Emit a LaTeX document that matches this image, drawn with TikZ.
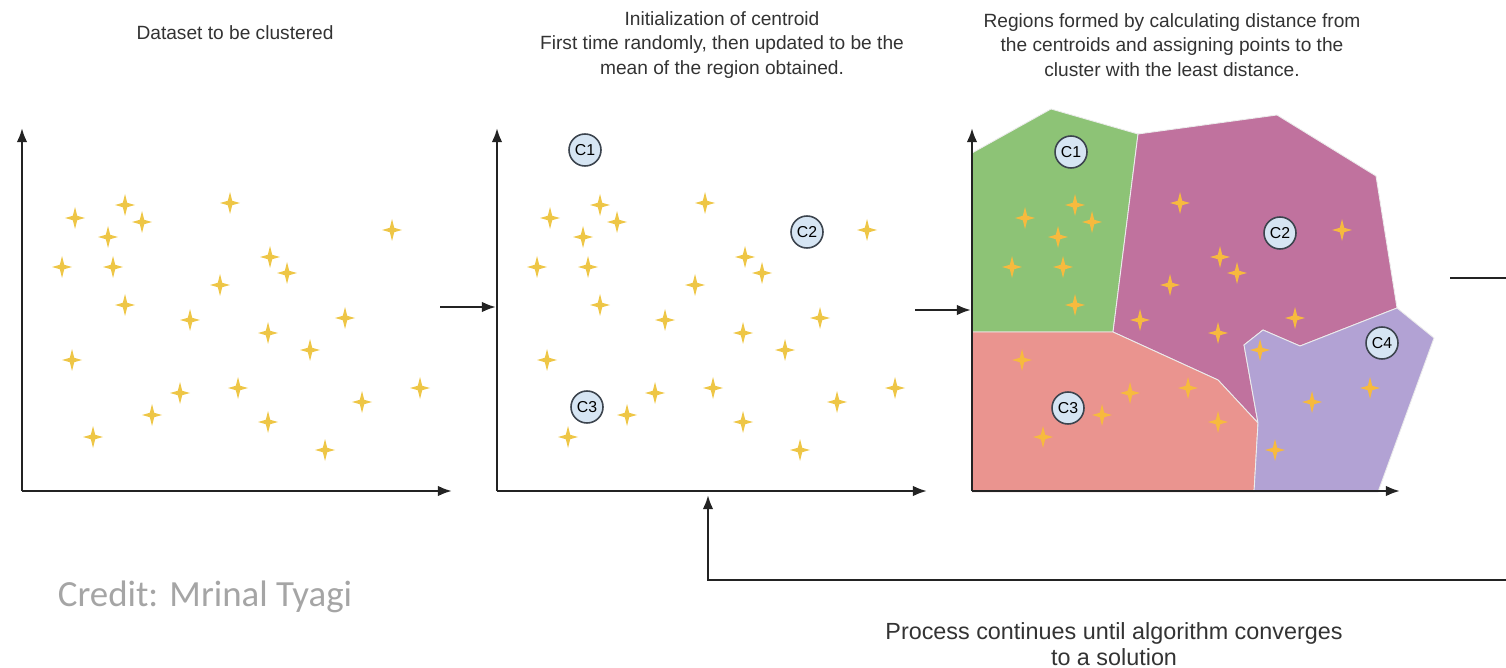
\documentclass[tikz,border=0pt]{standalone}
\usepackage{fontspec}
\setmainfont{Liberation Sans}
\newfontfamily\creditfont{Carlito}
\usetikzlibrary{arrows.meta}

\definecolor{starcol}{RGB}{238,198,70}
\definecolor{starorange}{RGB}{247,186,62}
\definecolor{axiscol}{RGB}{35,35,35}
\definecolor{regA}{RGB}{141,195,118}
\definecolor{regB}{RGB}{192,114,158}
\definecolor{regC}{RGB}{234,148,143}
\definecolor{regD}{RGB}{178,162,212}
\definecolor{centfill}{RGB}{214,229,243}
\definecolor{centline}{RGB}{60,68,78}
\definecolor{creditcol}{RGB}{165,165,165}

\tikzset{
	axis/.style={draw=axiscol, line width=1.4pt, -{Latex[length=8pt,width=6pt]}},
	link/.style={draw=axiscol, line width=1.4pt},
	centroid/.style={circle, draw=centline, line width=0.9pt, fill=centfill, minimum size=0.64cm, inner sep=0pt, font=\fontsize{9}{10}\selectfont},
	heading/.style={align=center, text=black!80, font=\fontsize{10.9}{14}\selectfont},
	region/.style={draw=white!85!gray, line width=0.5pt, line join=round},
}

\newcommand{\spark}[3]{\fill[#3, shift={(#1,#2)}] (0,-11) -- (2.2,-2.2) -- (10,0) -- (2.2,2.2) -- (0,11) -- (-2.2,2.2) -- (-10,0) -- (-2.2,-2.2) -- cycle;}

\begin{document}
\begin{tikzpicture}[x=0.02cm, y=-0.02cm]

	\useasboundingbox (0,0) rectangle (1506,668);

		\fill[region, fill=regA] (972,153) -- (1051,109) -- (1138,134) -- (1113,332) -- (972,332) -- cycle;
		\fill[region, fill=regB] (1138,134) -- (1277,115) -- (1376,176) -- (1397,308) -- (1300,346) -- (1263,330) -- (1244,345) -- (1258,423) -- (1218,380) -- (1113,332) -- cycle;
		\fill[region, fill=regC] (972,332) -- (1113,332) -- (1218,380) -- (1258,423) -- (1254,492) -- (972,492) -- cycle;
		\fill[region, fill=regD] (1244,345) -- (1263,330) -- (1300,346) -- (1397,308) -- (1434,338) -- (1378,492) -- (1254,492) -- (1258,423) -- cycle;

		\coordinate (o1) at (22,491);
		\coordinate (y1) at (22,128);
		\coordinate (x1) at (452,491);
		\coordinate (o2) at (497,491);
		\coordinate (y2) at (497,128);
		\coordinate (x2) at (927,491);
		\coordinate (o3) at (972,491);
		\coordinate (y3) at (972,128);
		\coordinate (x3) at (1400,491);

		\draw[axis] (o1) -- (y1);
		\draw[axis] (o1) -- (x1);
		\draw[axis] (o2) -- (y2);
		\draw[axis] (o2) -- (x2);
		\draw[axis] (o3) -- (y3);
		\draw[axis] (o3) -- (x3);

		\foreach \dx/\sc in {0/starcol, 475/starcol, 950/starorange}
		{
			\foreach \px/\py in {75/218, 125/205, 142/222, 108/237, 230/203, 392/230, 62/267, 113/267, 270/257, 287/273, 220/285, 125/305, 190/320, 268/333, 345/318, 310/350, 72/360, 180/393, 238/388, 152/415, 268/422, 362/402, 420/388, 93/437, 325/450}
			{
				\spark{\px+\dx}{\py}{\sc}
			}
		}

		\node[centroid] (c1a) at (585,150) {C1};
		\node[centroid] (c2a) at (807,232) {C2};
		\node[centroid] (c3a) at (587,407) {C3};

		\node[centroid] (c1b) at (1071,152) {C1};
		\node[centroid] (c2b) at (1280,233) {C2};
		\node[centroid] (c3b) at (1068,408) {C3};
		\node[centroid] (c4b) at (1382,343) {C4};

		\coordinate (a1s) at (440,307);
		\coordinate (a1e) at (496,307);
		\coordinate (a2s) at (915,310);
		\coordinate (a2e) at (971,310);
		\coordinate (a3s) at (1450,278);
		\coordinate (a3e) at (1506,278);
		\coordinate (backR) at (1506,580);
		\coordinate (backC) at (708,580);
		\coordinate (backT) at (708,495);

		\draw[axis] (a1s) -- (a1e);
		\draw[axis] (a2s) -- (a2e);
		\draw[link] (a3s) -- (a3e);
		\draw[axis] (backR) -- (backC) -- (backT);

		\node[heading] (head1) at (235,33) {Dataset to be clustered};
		\node[heading] (head2) at (722,45) {Initialization of centroid\\First time randomly, then updated to be the\\mean of the region obtained.};
		\node[heading] (head3) at (1172,45) {Regions formed by calculating distance from\\the centroids and assigning points to the\\cluster with the least distance.};
		\node[heading, font=\fontsize{13.3}{15}\selectfont] (foot) at (1114,644) {Process continues until algorithm converges\\to a solution};
		\node[text=creditcol, font=\creditfont\fontsize{21}{24}\selectfont] (credit) at (205,597) {Credit: Mrinal Tyagi};

	\end{tikzpicture}
\end{document}
